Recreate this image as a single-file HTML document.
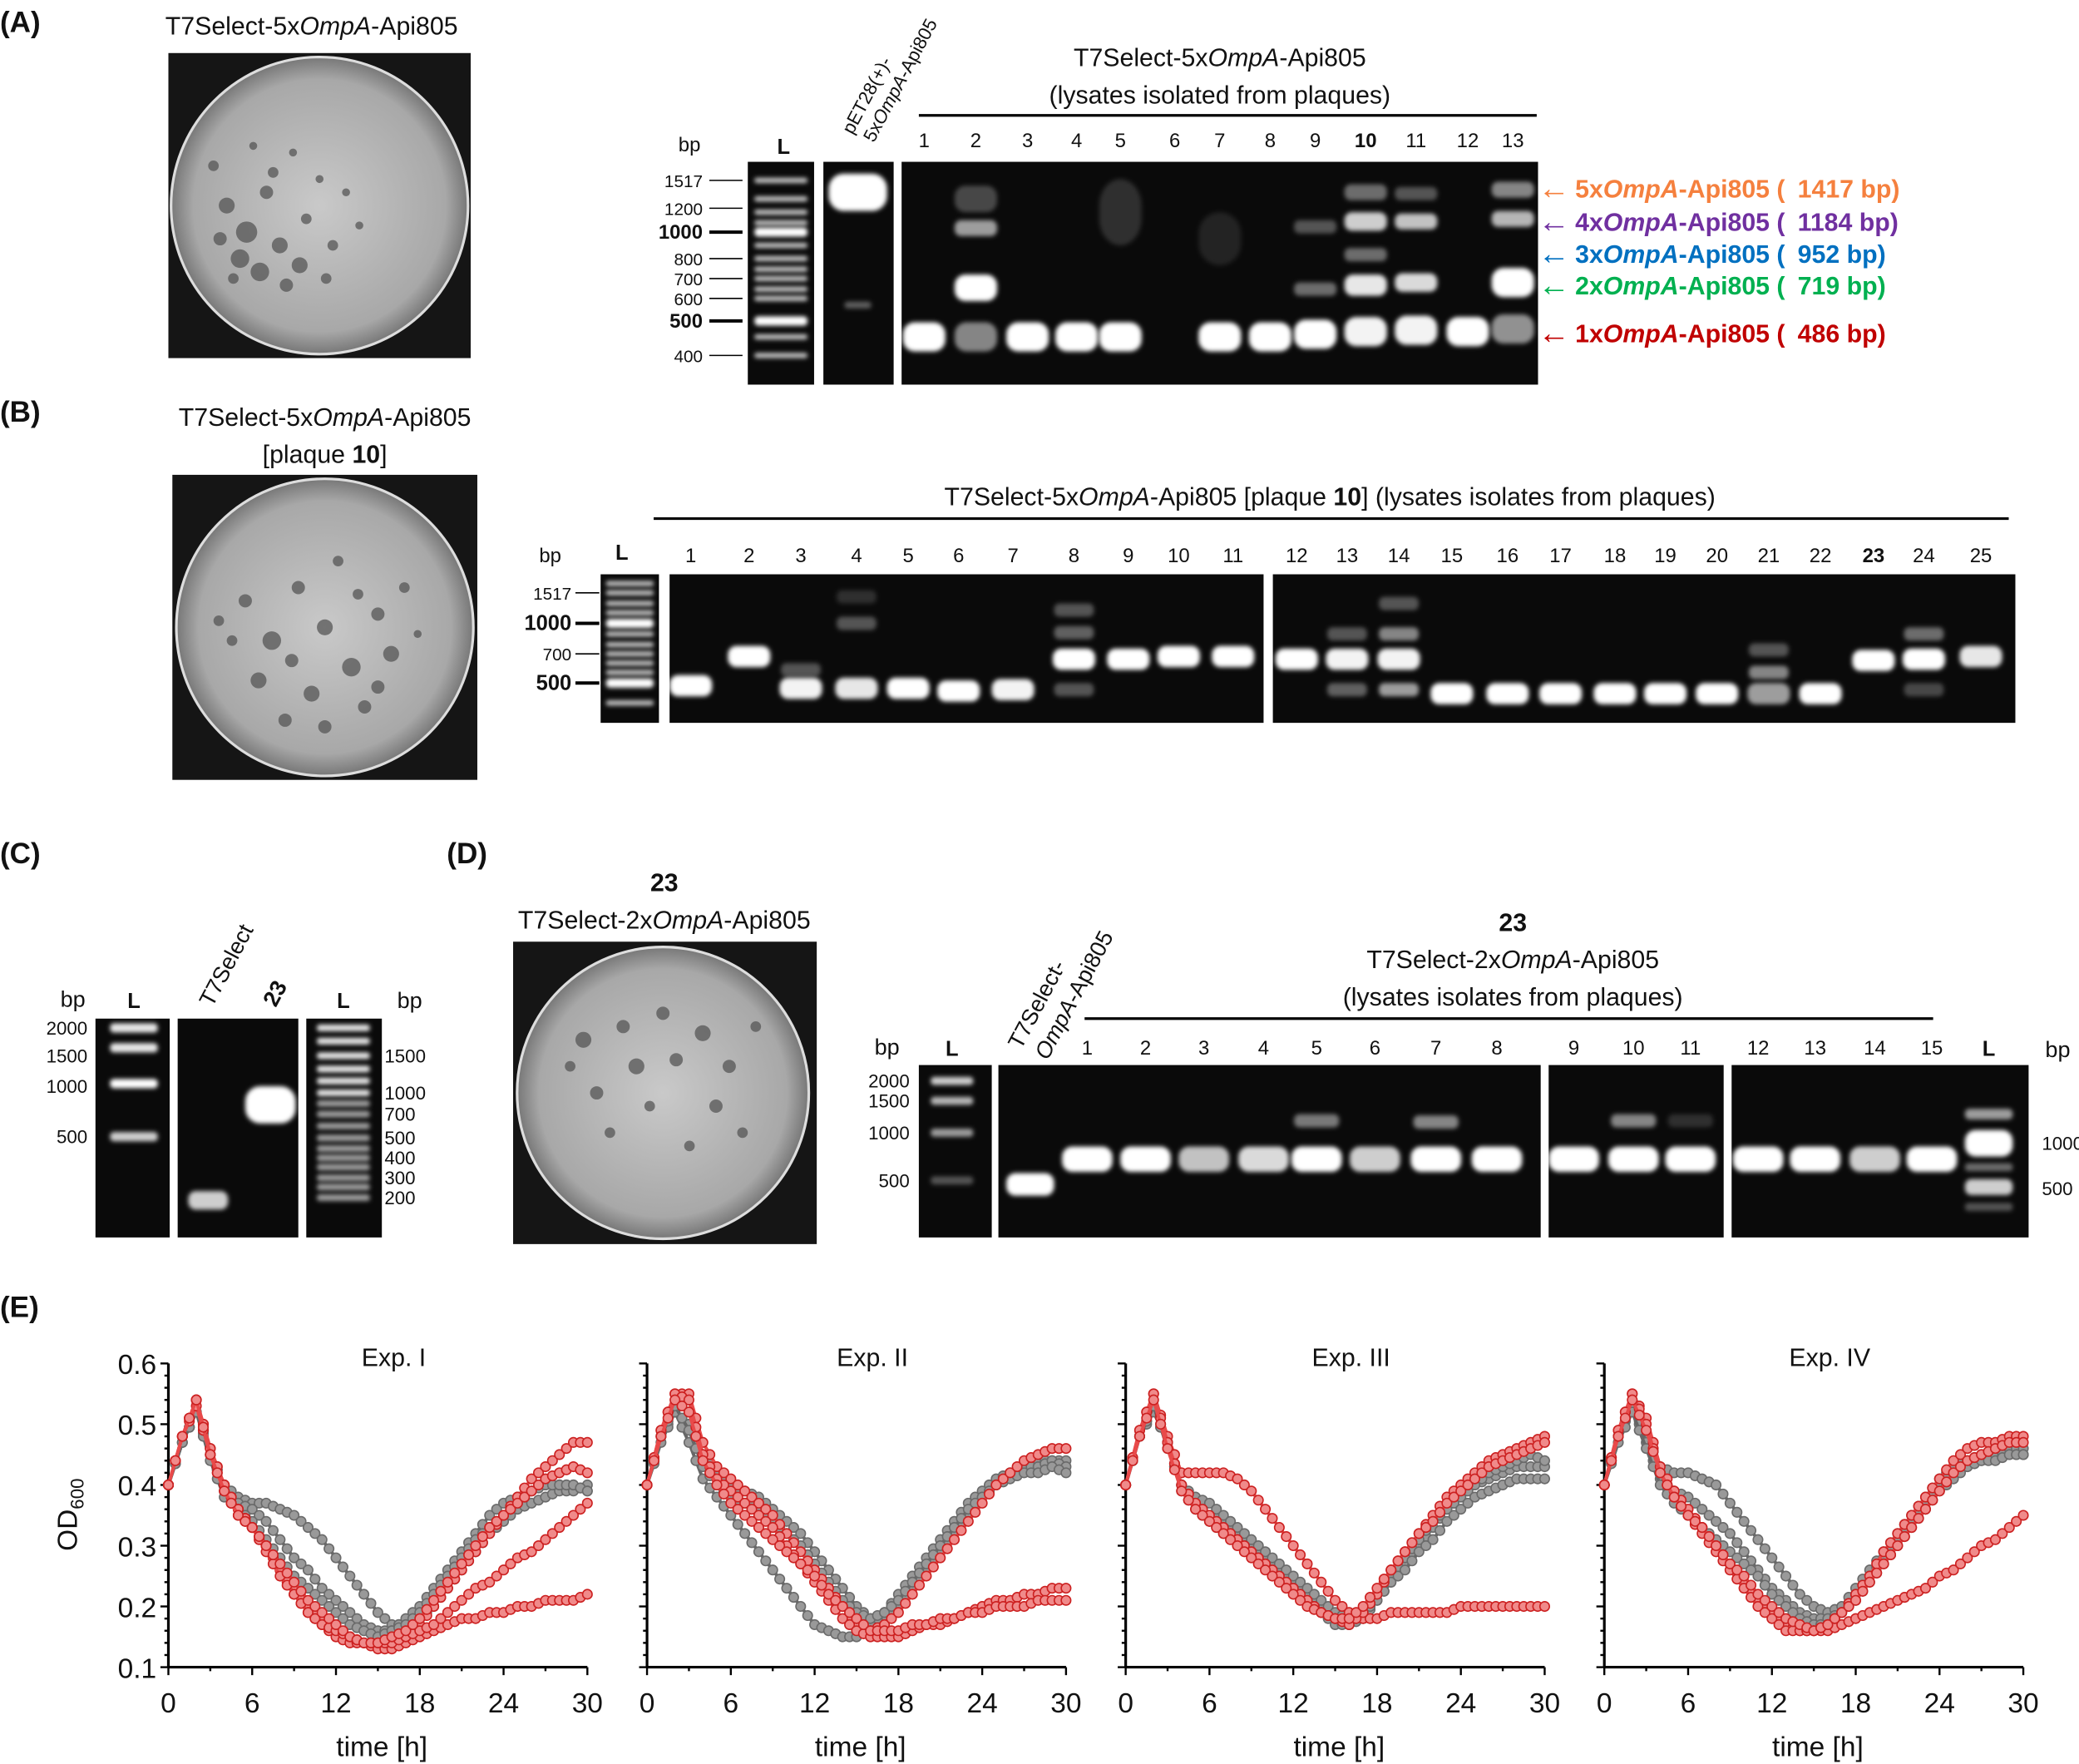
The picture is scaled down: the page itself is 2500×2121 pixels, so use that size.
<!DOCTYPE html>
<html><head><meta charset="utf-8">
<style>
html,body{margin:0;padding:0;background:#fff;}
svg{display:block;}
text{font-family:"Liberation Sans",sans-serif;fill:#111;}
</style></head>
<body>
<svg id="fig" width="2500" height="2121" viewBox="0 0 1568 1330" preserveAspectRatio="none" xmlns="http://www.w3.org/2000/svg">
<defs>
<filter id="blur" x="-50%" y="-100%" width="200%" height="300%"><feGaussianBlur stdDeviation="1.6"/></filter>
<radialGradient id="plateGrad" cx="50%" cy="50%" r="50%">
<stop offset="0%" stop-color="#c9c9c9"/><stop offset="85%" stop-color="#a8a8a8"/><stop offset="100%" stop-color="#777"/></radialGradient>
</defs>

<g>
<text x="0" y="24" font-size="22" font-weight="bold">(A)</text>
<text x="235" y="26" font-size="19" text-anchor="middle">T7Select-5x<tspan font-style="italic">OmpA</tspan>-Api805</text>
<text x="920" y="50" font-size="19" text-anchor="middle">T7Select-5x<tspan font-style="italic">OmpA</tspan>-Api805</text>
<text x="920" y="78" font-size="19" text-anchor="middle">(lysates isolated from plaques)</text>
<line x1="693" y1="87" x2="1159" y2="87" stroke="#000" stroke-width="2"/>
<text x="520" y="114" font-size="15" text-anchor="middle">bp</text>
<text x="591" y="116" font-size="16" font-weight="bold" text-anchor="middle">L</text>
<g transform="translate(643,102) rotate(-62)"><text font-size="14">pET28(+)-</text></g>
<g transform="translate(659,108) rotate(-62)"><text font-size="14">5x<tspan font-style="italic">OmpA</tspan>-Api805</text></g>
</g>

<g>
<text x="0" y="318" font-size="22" font-weight="bold">(B)</text>
<text x="245" y="321" font-size="19" text-anchor="middle">T7Select-5x<tspan font-style="italic">OmpA</tspan>-Api805</text>
<text x="245" y="349" font-size="19" text-anchor="middle">[plaque <tspan font-weight="bold">10</tspan>]</text>
<text x="1003" y="381" font-size="19" text-anchor="middle">T7Select-5x<tspan font-style="italic">OmpA</tspan>-Api805 [plaque <tspan font-weight="bold">10</tspan>] (lysates isolates from plaques)</text>
<line x1="493" y1="391" x2="1515" y2="391" stroke="#000" stroke-width="2"/>
<text x="415" y="424" font-size="15" text-anchor="middle">bp</text>
<text x="469" y="422" font-size="16" font-weight="bold" text-anchor="middle">L</text>
</g>

<g>
<text x="0" y="651" font-size="22" font-weight="bold">(C)</text>
<text x="55" y="759" font-size="17" text-anchor="middle">bp</text>
<text x="101" y="760" font-size="16" font-weight="bold" text-anchor="middle">L</text>
<g transform="translate(160,760) rotate(-62)"><text font-size="17">T7Select</text></g>
<g transform="translate(208,760) rotate(-62)"><text font-size="17" font-weight="bold">23</text></g>
<text x="259" y="760" font-size="16" font-weight="bold" text-anchor="middle">L</text>
<text x="309" y="760" font-size="17" text-anchor="middle">bp</text>
</g>

<g>
<text x="337" y="651" font-size="22" font-weight="bold">(D)</text>
<text x="501" y="672" font-size="19" font-weight="bold" text-anchor="middle">23</text>
<text x="501" y="700" font-size="19" text-anchor="middle">T7Select-2x<tspan font-style="italic">OmpA</tspan>-Api805</text>
<text x="1141" y="702" font-size="19" font-weight="bold" text-anchor="middle">23</text>
<text x="1141" y="730" font-size="19" text-anchor="middle">T7Select-2x<tspan font-style="italic">OmpA</tspan>-Api805</text>
<text x="1141" y="758" font-size="19" text-anchor="middle">(lysates isolates from plaques)</text>
<line x1="818" y1="768" x2="1458" y2="768" stroke="#000" stroke-width="2"/>
<text x="669" y="795" font-size="17" text-anchor="middle">bp</text>
<text x="718" y="796" font-size="16" font-weight="bold" text-anchor="middle">L</text>
<g transform="translate(770,792) rotate(-62)"><text font-size="17">T7Select-</text></g>
<g transform="translate(790,800) rotate(-62)"><text font-size="17"><tspan font-style="italic">OmpA</tspan>-Api805</text></g>
<text x="1500" y="796" font-size="16" font-weight="bold" text-anchor="middle">L</text>
<text x="1552" y="797" font-size="17" text-anchor="middle">bp</text>
</g>

<g>
<text x="0" y="993" font-size="22" font-weight="bold">(E)</text>
<g transform="translate(58,1142) rotate(-90)"><text font-size="21" text-anchor="middle">OD<tspan font-size="14" dy="5">600</tspan></text></g>
</g>
<g id="dyn"></g>
</svg>

<script>
const times = [0,1,2,3,4,5,6,7,8,9,10,11,12,13,14,15,16,17,18,19,20,21,22,23,24,25,26,27,28,29,30];
const yTicks = [0.1,0.2,0.3,0.4,0.5,0.6];
const xTicks = [0,6,12,18,24,30];
const expTitles = ["Exp. I","Exp. II","Exp. III","Exp. IV"];

const exp1Gray = [
[0.40,0.47,0.52,0.45,0.40,0.38,0.37,0.37,0.36,0.35,0.33,0.31,0.28,0.25,0.22,0.19,0.17,0.17,0.18,0.20,0.23,0.26,0.29,0.32,0.34,0.36,0.37,0.38,0.39,0.39,0.40],
[0.40,0.47,0.52,0.46,0.39,0.37,0.36,0.34,0.31,0.28,0.26,0.23,0.21,0.19,0.17,0.16,0.16,0.18,0.20,0.23,0.26,0.29,0.32,0.35,0.37,0.38,0.39,0.40,0.40,0.40,0.39],
[0.40,0.47,0.52,0.44,0.38,0.36,0.34,0.31,0.28,0.25,0.23,0.21,0.19,0.17,0.16,0.15,0.16,0.17,0.19,0.22,0.25,0.28,0.31,0.33,0.35,0.37,0.39,0.40,0.40,0.40,0.39]];
const exp1Red = [
[0.40,0.48,0.54,0.46,0.40,0.36,0.33,0.30,0.26,0.23,0.20,0.18,0.16,0.15,0.14,0.14,0.14,0.15,0.17,0.20,0.23,0.26,0.29,0.32,0.35,0.38,0.41,0.43,0.45,0.47,0.47],
[0.40,0.48,0.54,0.46,0.40,0.36,0.33,0.30,0.26,0.22,0.19,0.17,0.15,0.14,0.14,0.13,0.13,0.14,0.15,0.16,0.17,0.18,0.18,0.19,0.19,0.20,0.20,0.21,0.21,0.21,0.22],
[0.40,0.48,0.53,0.45,0.39,0.35,0.33,0.29,0.25,0.22,0.19,0.17,0.16,0.15,0.14,0.14,0.14,0.15,0.16,0.17,0.19,0.21,0.23,0.24,0.26,0.28,0.29,0.31,0.33,0.35,0.37],
[0.40,0.48,0.54,0.45,0.39,0.35,0.33,0.30,0.27,0.24,0.21,0.19,0.17,0.15,0.14,0.14,0.15,0.16,0.18,0.21,0.24,0.27,0.30,0.33,0.35,0.37,0.39,0.41,0.42,0.43,0.42]];

const exp2Gray = [
[0.40,0.48,0.52,0.50,0.45,0.42,0.40,0.39,0.38,0.36,0.34,0.32,0.29,0.26,0.23,0.20,0.18,0.18,0.20,0.23,0.26,0.29,0.32,0.35,0.38,0.40,0.42,0.43,0.44,0.44,0.44],
[0.40,0.47,0.52,0.47,0.41,0.38,0.35,0.32,0.29,0.26,0.23,0.20,0.17,0.16,0.15,0.15,0.17,0.19,0.22,0.25,0.28,0.31,0.34,0.37,0.39,0.41,0.42,0.43,0.43,0.44,0.43],
[0.40,0.48,0.53,0.49,0.43,0.40,0.38,0.37,0.36,0.34,0.32,0.30,0.27,0.24,0.21,0.19,0.18,0.19,0.21,0.24,0.27,0.30,0.33,0.36,0.38,0.40,0.41,0.42,0.42,0.43,0.42]];
const exp2Red = [
[0.40,0.49,0.55,0.55,0.47,0.43,0.41,0.39,0.37,0.35,0.32,0.29,0.26,0.23,0.20,0.17,0.16,0.17,0.19,0.22,0.25,0.28,0.31,0.34,0.37,0.40,0.42,0.44,0.45,0.46,0.46],
[0.40,0.49,0.55,0.54,0.45,0.41,0.39,0.37,0.35,0.33,0.30,0.27,0.24,0.21,0.18,0.16,0.15,0.15,0.15,0.16,0.17,0.17,0.18,0.19,0.20,0.21,0.21,0.22,0.22,0.23,0.23],
[0.40,0.48,0.54,0.52,0.44,0.40,0.37,0.35,0.33,0.31,0.29,0.27,0.25,0.22,0.20,0.18,0.16,0.16,0.16,0.17,0.17,0.18,0.18,0.19,0.19,0.20,0.20,0.20,0.21,0.21,0.21]];

const exp3Gray = [
[0.40,0.48,0.52,0.47,0.40,0.37,0.35,0.34,0.32,0.30,0.28,0.26,0.24,0.22,0.20,0.18,0.17,0.18,0.21,0.24,0.27,0.30,0.33,0.36,0.38,0.40,0.41,0.42,0.43,0.43,0.43],
[0.40,0.48,0.53,0.47,0.39,0.36,0.34,0.32,0.31,0.29,0.27,0.25,0.23,0.21,0.19,0.17,0.17,0.19,0.22,0.25,0.28,0.31,0.34,0.36,0.38,0.40,0.42,0.43,0.44,0.45,0.44],
[0.40,0.48,0.53,0.46,0.40,0.38,0.37,0.35,0.33,0.31,0.29,0.27,0.25,0.23,0.21,0.19,0.18,0.19,0.21,0.24,0.26,0.29,0.31,0.34,0.36,0.38,0.39,0.40,0.41,0.41,0.41]];
const exp3Red = [
[0.40,0.49,0.55,0.48,0.42,0.42,0.42,0.42,0.41,0.39,0.36,0.33,0.30,0.27,0.24,0.21,0.19,0.18,0.18,0.19,0.19,0.19,0.19,0.19,0.20,0.20,0.20,0.20,0.20,0.20,0.20],
[0.40,0.49,0.55,0.47,0.40,0.37,0.35,0.33,0.31,0.29,0.27,0.25,0.23,0.21,0.19,0.18,0.17,0.19,0.22,0.26,0.29,0.32,0.35,0.38,0.40,0.42,0.44,0.45,0.46,0.47,0.48],
[0.40,0.48,0.54,0.46,0.39,0.36,0.34,0.32,0.30,0.28,0.26,0.24,0.22,0.20,0.19,0.18,0.18,0.20,0.23,0.26,0.29,0.32,0.34,0.37,0.39,0.41,0.43,0.44,0.45,0.46,0.47]];

const exp4Gray = [
[0.40,0.48,0.53,0.48,0.43,0.42,0.42,0.41,0.40,0.37,0.34,0.31,0.28,0.25,0.22,0.20,0.19,0.20,0.23,0.26,0.29,0.32,0.35,0.38,0.41,0.43,0.44,0.45,0.45,0.46,0.46],
[0.40,0.48,0.53,0.47,0.41,0.39,0.38,0.36,0.34,0.32,0.29,0.26,0.23,0.21,0.19,0.18,0.18,0.19,0.22,0.25,0.28,0.31,0.34,0.37,0.40,0.42,0.43,0.44,0.45,0.45,0.45],
[0.40,0.47,0.52,0.46,0.40,0.37,0.35,0.33,0.31,0.29,0.27,0.25,0.22,0.20,0.18,0.17,0.17,0.19,0.21,0.24,0.27,0.30,0.33,0.36,0.39,0.41,0.43,0.44,0.44,0.45,0.45]];
const exp4Red = [
[0.40,0.49,0.55,0.51,0.43,0.39,0.36,0.33,0.30,0.27,0.24,0.21,0.19,0.17,0.16,0.16,0.16,0.17,0.18,0.19,0.20,0.21,0.22,0.23,0.25,0.26,0.28,0.30,0.31,0.33,0.35],
[0.40,0.49,0.55,0.50,0.42,0.38,0.35,0.32,0.29,0.26,0.23,0.20,0.18,0.16,0.16,0.16,0.17,0.19,0.22,0.25,0.29,0.32,0.35,0.38,0.41,0.44,0.46,0.47,0.47,0.48,0.48],
[0.40,0.48,0.54,0.49,0.42,0.38,0.35,0.33,0.30,0.27,0.25,0.22,0.20,0.18,0.17,0.16,0.17,0.19,0.21,0.24,0.27,0.30,0.33,0.36,0.39,0.42,0.44,0.45,0.46,0.47,0.47]];

const grayData = [exp1Gray, exp2Gray, exp3Gray, exp4Gray];
const redData = [exp1Red, exp2Red, exp3Red, exp4Red];

const laneA = ["1","2","3","4","5","6","7","8","9","10","11","12","13"];
const laneB = ["1","2","3","4","5","6","7","8","9","10","11","12","13","14","15","16","17","18","19","20","21","22","23","24","25"];
const laneD = ["1","2","3","4","5","6","7","8","9","10","11","12","13","14","15"];

const NS = "http://www.w3.org/2000/svg";
const root = document.getElementById('dyn');
function mk(tag, attrs, parent){
  const e = document.createElementNS(NS, tag);
  for (const k in attrs) e.setAttribute(k, attrs[k]);
  (parent||root).appendChild(e);
  return e;
}
function txt(x,y,s,size,anchor,bold,parent){
  const t = mk('text',{x:x,y:y,'font-size':size,'text-anchor':anchor||'middle','font-weight':bold?'bold':'normal'},parent);
  t.textContent = s;
  return t;
}
function gel(x,y,w,h,name){
  const r = mk('rect',{x:x,y:y,width:w,height:h,fill:'#0a0a0a'});
  
  
}
function band(cx,cy,w,h,op){
  const r = mk('rect',{x:cx-w/2,y:cy-h/2,width:w,height:h,rx:h/2.5,fill:'#fff','fill-opacity':op,filter:'url(#blur)'});
  
  
}
function plate(x,y,w,h,cx,cy,r,spots,name){
  const bg = mk('rect',{x:x,y:y,width:w,height:h,fill:'#151515'});
  
  
  const c = mk('circle',{cx:cx,cy:cy,r:r,fill:'url(#plateGrad)',stroke:'#ddd','stroke-width':2});
  
  
  spots.forEach(s=>{
    const p = mk('circle',{cx:cx+s[0],cy:cy+s[1],r:s[2],fill:'#555','fill-opacity':0.75});
    
    
  });
}

plate(127,40,228,230,241,155,112,[[-80,-30,4],[-70,0,6],[-55,20,8],[-60,40,7],[-40,-10,5],[-30,30,6],[-20,-40,3],[-10,10,4],[0,-20,3],[10,30,4],[-45,50,7],[-25,60,5],[-75,25,5],[-50,-45,3],[20,-10,3],[-15,45,6],[30,15,3],[-35,-25,4],[-65,55,4],[5,55,4]],'plate-a');
gel(564,122,50,168,'ladder-gel-a');
gel(621,122,53,168,'pet-gel-a');
gel(680,122,480,168,'sample-gel-a');
[136,150,160,168,175,185,195,203,210,218,225,242,254,268].forEach((y,i)=>band(589,y,40,[4,11].includes(i)?7:4,[4,11].includes(i)?1:0.75));
band(647,145,44,28,1); band(647,230,20,5,0.35);
const ladALabels=[["1517",136],["1200",157],["1000",175],["800",195],["700",210],["600",225],["500",242],["400",268]];
ladALabels.forEach(l=>{
  const b = (l[0]==="1000"||l[0]==="500");
  const t = txt(530,l[1]+5,l[0],b?15:13,'end',b);
  
  
  const ln = mk('line',{x1:535,y1:l[1],x2:560,y2:l[1],stroke:'#000','stroke-width':b?2.5:1});
  
  
});
const laneAX=[697,736,775,812,845,886,920,958,992,1030,1068,1107,1141];
laneA.forEach((s,i)=>{
  const t = txt(laneAX[i],111,s,15,'middle',s==="10");
  
  
});
[[0,254,1],[1,254,0.5],[2,254,1],[3,254,1],[4,254,1],[6,254,1],[7,254,1],[8,252,1],[9,250,0.95],[10,249,0.95],[11,250,1],[12,248,0.55]].forEach(b=>band(laneAX[b[0]],b[1],32,22,b[2]));
[[1,217,1,20],[1,172,0.6,12],[1,150,0.25,20],[4,160,0.15,50],[6,180,0.1,40],[8,218,0.4,10],[8,171,0.3,10],[9,215,0.9,16],[9,192,0.4,10],[9,167,0.8,14],[9,145,0.4,12],[10,213,0.85,14],[10,167,0.75,12],[10,146,0.3,10],[12,213,1,22],[12,165,0.7,12],[12,143,0.5,12]].forEach(b=>band(laneAX[b[0]],b[1],32,b[3],b[2]));
const legA=[["5x","1417 bp","#f5803e",142],["4x","1184 bp","#7030a0",167],["3x","952 bp","#0070c0",191],["2x","719 bp","#00b050",215],["1x","486 bp","#c00000",251]];
legA.forEach(l=>{
  const a = mk('text',{x:1160,y:l[3]+8,'font-size':24,'font-weight':'bold'});
  a.textContent='\u2190';
  a.style.fill=l[2];
  
  
  const t = mk('text',{x:1188,y:l[3]+7,'font-size':19,'font-weight':'bold'});
  
  
  t.style.fill=l[2];
  t.innerHTML = l[0]+'<tspan font-style="italic">OmpA</tspan>-Api805 ('+(l[1].length<8?'\u2002':'')+l[1]+')';
});

plate(130,358,230,230,245,473,112,[[-60,-20,5],[-40,10,7],[-20,-30,5],[0,0,6],[20,30,7],[40,-10,5],[-50,40,6],[-10,50,6],[30,60,5],[50,20,6],[-70,10,4],[10,-50,4],[60,-30,4],[-30,70,5],[0,75,5],[40,45,5],[-80,-5,4],[25,-25,4],[-25,25,5],[70,5,3]],'plate-b');
gel(453,433,44,112,'ladder-gel-b');
gel(505,433,448,112,'sample-gel-b-1');
gel(960,433,560,112,'sample-gel-b-2');
[440,447,455,462,470,478,486,493,500,507,515,530].forEach((y,i)=>band(475,y,36,[4,10].includes(i)?7:4,[4,10].includes(i)?1:0.75));
[["1517",447,false],["1000",470,true],["700",493,false],["500",515,true]].forEach(l=>{
  const t = txt(431,l[1]+5,l[0],l[2]?16:13,'end',l[2]);
  
  
  const ln = mk('line',{x1:434,y1:l[1],x2:452,y2:l[1],stroke:'#000','stroke-width':l[2]?2.5:1});
  
  
});
const laneBX=[521,565,604,646,685,723,764,810,851,889,930,978,1016,1055,1095,1137,1177,1218,1256,1295,1334,1373,1413,1451,1494];
laneB.forEach((s,i)=>{
  const t = txt(laneBX[i],424,s,15,'middle',s==="23");
  
  
});
[[0,517,1],[1,495,1],[2,519,0.95],[3,519,0.9],[4,519,1],[5,521,1],[6,520,0.95],[7,497,1],[8,497,1],[9,495,1],[10,495,1],[11,497,1],[12,497,0.95],[13,497,0.95],[14,523,1],[15,523,1],[16,523,1],[17,523,1],[18,523,1],[19,523,1],[20,523,0.6],[21,523,1],[22,498,1],[23,497,1],[24,495,0.9]].forEach(b=>band(laneBX[b[0]],b[1],32,16,b[2]));
[[3,470,0.3],[3,450,0.15],[7,477,0.35],[7,460,0.3],[7,520,0.3],[12,520,0.35],[12,478,0.3],[13,520,0.6],[13,478,0.5],[13,455,0.3],[20,507,0.5],[20,490,0.3],[23,478,0.4],[23,520,0.25],[2,505,0.3]].forEach(b=>band(laneBX[b[0]],b[1],30,10,b[2]));

gel(72,768,56,165,'ladder-gel-c-left');
gel(134,768,91,165,'sample-gel-c');
gel(231,768,57,165,'ladder-gel-c-right');
[[775,0.9],[790,0.9],[817,1],[857,0.8]].forEach(b=>band(101,b[0],36,7,b[1]));
band(157,905,30,14,0.8); band(204,833,38,28,1);
[775,785,796,806,815,824,832,840,849,858,866,873,880,888,895,903].forEach((y,i)=>band(259,y,40,5,i<6?0.9:0.6));
[["2000",775],["1500",796],["1000",819],["500",857]].forEach(l=>{
  const t=txt(66,l[1]+5,l[0],14,'end',false);
  
  
});
[["1500",796],["1000",824],["700",840],["500",858],["400",873],["300",888],["200",903]].forEach(l=>{
  const t=txt(290,l[1]+5,l[0],14,'start',false);
  
  
});

plate(387,710,229,228,500,824,110,[[-60,-40,6],[-30,-50,5],[0,-60,5],[30,-45,6],[50,-20,5],[-20,-20,6],[10,-25,5],[-50,0,5],[40,10,5],[60,30,4],[-40,30,4],[20,40,4],[-70,-20,4],[70,-50,4],[-10,10,4]],'plate-d');
gel(693,803,55,130,'ladder-gel-d-left');
gel(753,803,409,130,'sample-gel-d-1');
gel(1168,803,132,130,'sample-gel-d-2');
gel(1306,803,224,130,'sample-gel-d-3');
[[815,0.8],[830,0.7],[854,0.6],[890,0.3]].forEach(b=>band(718,b[0],32,6,b[1]));
band(777,893,36,17,1);
const laneDX=[820,864,908,953,993,1037,1083,1129,1187,1232,1275,1326,1369,1414,1457];
laneD.forEach((s,i)=>{
  const t = txt(laneDX[i],795,s,15,'middle',false);
  
  
});
[[0,1],[1,1],[2,0.75],[3,0.85],[4,1],[5,0.8],[6,1],[7,1],[8,1],[9,1],[10,1],[11,1],[12,1],[13,0.8],[14,1]].forEach(b=>band(laneDX[b[0]],874,38,19,b[1]));
[[4,845,0.45],[6,846,0.5],[9,845,0.5],[10,845,0.15]].forEach(b=>band(laneDX[b[0]],b[1],34,10,b[2]));
[[862,1,20],[840,0.6,8],[895,0.8,12],[880,0.4,6],[910,0.3,6]].forEach(b=>band(1500,b[0],36,b[2],b[1]));
[["2000",815],["1500",830],["1000",854],["500",890]].forEach(l=>{
  const t=txt(686,l[1]+5,l[0],14,'end',false);
  
  
});
[["1000",862],["500",896]].forEach(l=>{
  const t=txt(1540,l[1]+5,l[0],14,'start',false);
  
  
});

const chartX0=[127,488,849,1210], chartW=316;
const yBottom=1257, yTopPx=1028;
function yScale(v){ return yBottom - (v-0.1)/0.5*(yBottom-yTopPx); }
for (let c=0;c<4;c++){
  const x0=chartX0[c];
  const xScale = t => x0 + t/30*chartW;
  const g = mk('g',{});
  
  
  const tt = txt(x0+170,1030,expTitles[c],19,'middle',false,g);
  
  
  const ay = mk('line',{x1:x0,y1:yTopPx,x2:x0,y2:yBottom,stroke:'#000','stroke-width':2},g);
  
  
  const ax = mk('line',{x1:x0,y1:yBottom,x2:x0+chartW,y2:yBottom,stroke:'#000','stroke-width':2},g);
  
  
  for (let k=0;k<=25;k++){
    const v=0.1+k*0.02, yy=yScale(v), major=(k%5===0);
    const tk=mk('line',{x1:x0-(major?6:3),y1:yy,x2:x0,y2:yy,stroke:'#000','stroke-width':1.5},g);
    
    
  }
  yTicks.forEach(v=>{
    if (c===0){
      const t=txt(x0-9,yScale(v)+8,v.toFixed(1),21,'end',false,g);
      
      
    }
  });
  for (let h=0;h<=30;h+=3){
    const tk=mk('line',{x1:xScale(h),y1:yBottom,x2:xScale(h),y2:yBottom+(h%6===0?6:3),stroke:'#000','stroke-width':1.5},g);
    
    
  }
  xTicks.forEach(h=>{
    const t=txt(xScale(h),1291,String(h),21,'middle',false,g);
    
    
  });
  const xt=txt(x0+161,1324,'time [h]',21,'middle',false,g);
  
  
  const series=[];
  grayData[c].forEach(s=>series.push([s,'gray']));
  redData[c].forEach(s=>series.push([s,'red']));
  series.forEach((sr,si)=>{
    const vals=sr[0], isRed=sr[1]==='red';
    const line=isRed?'#e84a4a':'#666', fill=isRed?'#f08a8a':'#999', stroke=isRed?'#cc2020':'#6a6a6a';
    const pts=vals.map((v,i)=>xScale(times[i])+','+yScale(v)).join(' ');
    const pl=mk('polyline',{points:pts,fill:'none',stroke:line,'stroke-width':2.5},g);
    
    
    vals.forEach((v,i)=>{
      const p=mk('circle',{cx:xScale(times[i]),cy:yScale(v),r:3.6,fill:fill,stroke:stroke,'stroke-width':1},g);
      
      
      if (i<30){
        const p2=mk('circle',{cx:(xScale(times[i])+xScale(times[i+1]))/2,cy:(yScale(v)+yScale(vals[i+1]))/2,r:3.6,fill:fill,stroke:stroke,'stroke-width':1},g);
        
        
      }
    });
  });
}
</script>
</body></html>
